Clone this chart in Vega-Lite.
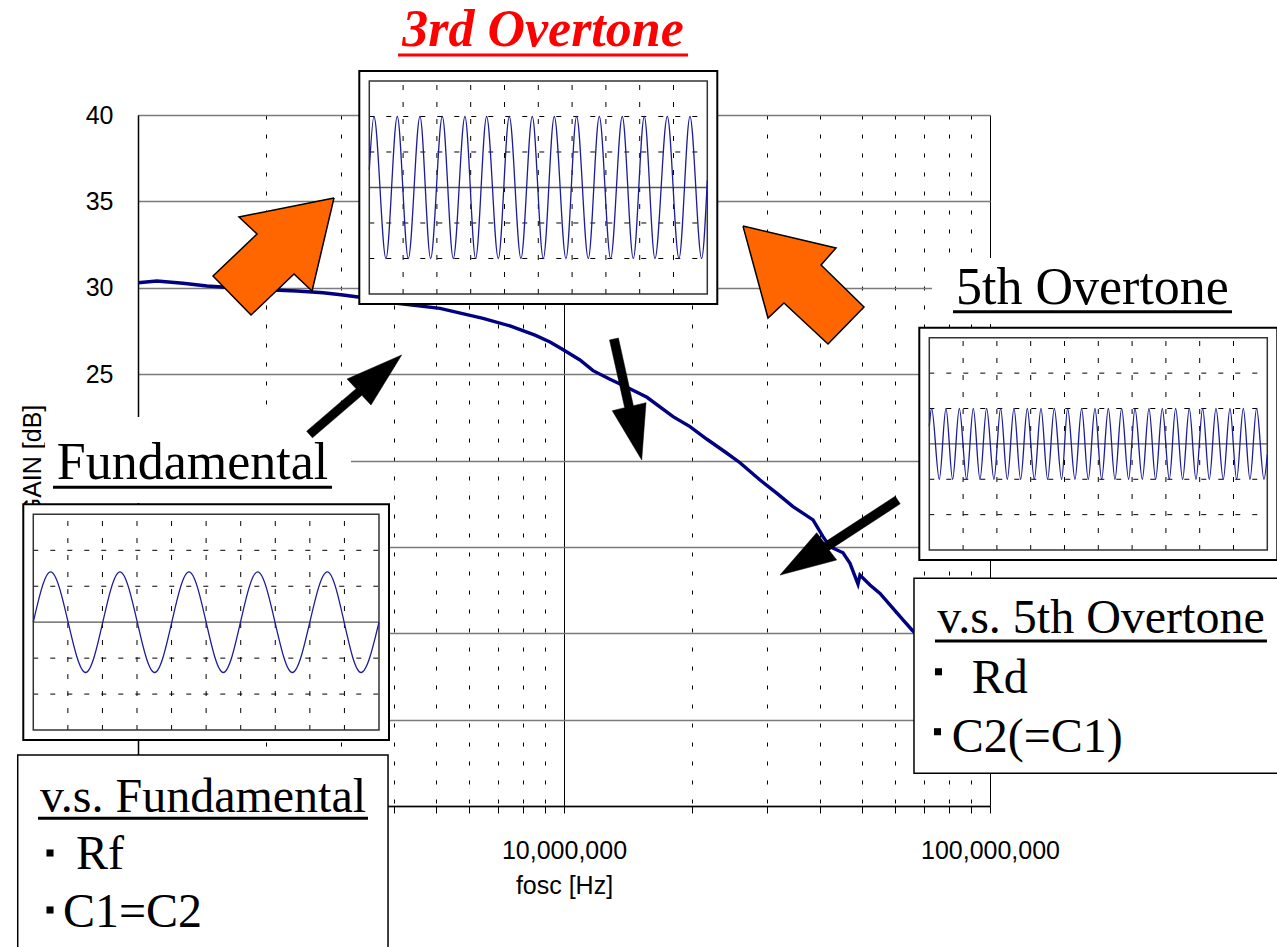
{
  "$schema": "https://vega.github.io/schema/vega-lite/v6.json",
  "width": 852,
  "height": 691,
  "autosize": {"type": "none"},
  "padding": {"left": 138, "top": 115, "right": 287, "bottom": 141},
  "background": "white",
  "config": {"view": {"stroke": null}},
  "datasets": {
    "gain": [
      {"f": 1000000, "gain": 30.29}, {"f": 1108000, "gain": 30.39}, {"f": 1275000, "gain": 30.26},
      {"f": 1452000, "gain": 30.10}, {"f": 1736000, "gain": 29.97}, {"f": 2074000, "gain": 29.87},
      {"f": 2362000, "gain": 29.81}, {"f": 2719000, "gain": 29.71}, {"f": 3029000, "gain": 29.58},
      {"f": 3320000, "gain": 29.45}, {"f": 4055000, "gain": 29.10}, {"f": 5115000, "gain": 28.81},
      {"f": 6455000, "gain": 28.23}, {"f": 7468000, "gain": 27.79}, {"f": 8550000, "gain": 27.26},
      {"f": 9271000, "gain": 26.86}, {"f": 9892000, "gain": 26.45}, {"f": 10900000, "gain": 25.82},
      {"f": 11700000, "gain": 25.20}, {"f": 12820000, "gain": 24.70}, {"f": 14050000, "gain": 24.24},
      {"f": 15660000, "gain": 23.66}, {"f": 18030000, "gain": 22.54}, {"f": 19760000, "gain": 21.96},
      {"f": 21660000, "gain": 21.23}, {"f": 24130000, "gain": 20.42}, {"f": 25890000, "gain": 19.87},
      {"f": 28850000, "gain": 18.87}, {"f": 31620000, "gain": 18.10}, {"f": 34480000, "gain": 17.33},
      {"f": 38420000, "gain": 16.56}, {"f": 40550000, "gain": 15.59}, {"f": 42100000, "gain": 15.01},
      {"f": 45180000, "gain": 14.66}, {"f": 46920000, "gain": 14.05}, {"f": 48990000, "gain": 12.85},
      {"f": 49520000, "gain": 13.37}, {"f": 52270000, "gain": 12.79}, {"f": 55180000, "gain": 12.31},
      {"f": 59200000, "gain": 11.44}, {"f": 62490000, "gain": 10.77}, {"f": 65600000, "gain": 10.19},
      {"f": 72320000, "gain": 9.15}
    ],
    "big_arrows": [
      {"shape": "up-left", "i": 0, "f": 2885000, "gain": 35.20},
      {"shape": "up-left", "i": 1, "f": 1726000, "gain": 34.10},
      {"shape": "up-left", "i": 2, "f": 1903000, "gain": 33.11},
      {"shape": "up-left", "i": 3, "f": 1500000, "gain": 30.68},
      {"shape": "up-left", "i": 4, "f": 1842000, "gain": 28.42},
      {"shape": "up-left", "i": 5, "f": 2324000, "gain": 30.80},
      {"shape": "up-left", "i": 6, "f": 2562000, "gain": 29.81},
      {"shape": "up-left", "i": 7, "f": 2885000, "gain": 35.20},
      {"shape": "up-right", "i": 0, "f": 26310000, "gain": 33.57},
      {"shape": "up-right", "i": 1, "f": 43500000, "gain": 32.30},
      {"shape": "up-right", "i": 2, "f": 40120000, "gain": 31.32},
      {"shape": "up-right", "i": 3, "f": 50610000, "gain": 28.89},
      {"shape": "up-right", "i": 4, "f": 41660000, "gain": 26.74},
      {"shape": "up-right", "i": 5, "f": 32840000, "gain": 29.12},
      {"shape": "up-right", "i": 6, "f": 30120000, "gain": 28.25},
      {"shape": "up-right", "i": 7, "f": 26310000, "gain": 33.57}
    ],
    "pointers": [
      {"shape": "to-3rd", "i": 0, "f": 2488000, "gain": 21.70},
      {"shape": "to-3rd", "i": 1, "f": 3251000, "gain": 24.16},
      {"shape": "to-3rd", "i": 2, "f": 3095000, "gain": 24.72},
      {"shape": "to-3rd", "i": 3, "f": 4159000, "gain": 26.11},
      {"shape": "to-3rd", "i": 4, "f": 3523000, "gain": 23.21},
      {"shape": "to-3rd", "i": 5, "f": 3354000, "gain": 23.77},
      {"shape": "to-3rd", "i": 6, "f": 2567000, "gain": 21.31},
      {"shape": "to-3rd", "i": 7, "f": 2488000, "gain": 21.70},
      {"shape": "down", "i": 0, "f": 12790000, "gain": 26.98},
      {"shape": "down", "i": 1, "f": 13880000, "gain": 23.06},
      {"shape": "down", "i": 2, "f": 12980000, "gain": 22.88},
      {"shape": "down", "i": 3, "f": 15220000, "gain": 20.03},
      {"shape": "down", "i": 4, "f": 15580000, "gain": 23.35},
      {"shape": "down", "i": 5, "f": 14550000, "gain": 23.17},
      {"shape": "down", "i": 6, "f": 13420000, "gain": 27.09},
      {"shape": "down", "i": 7, "f": 12790000, "gain": 26.98},
      {"shape": "from-5th", "i": 0, "f": 59910000, "gain": 17.93},
      {"shape": "from-5th", "i": 1, "f": 40810000, "gain": 15.25},
      {"shape": "from-5th", "i": 2, "f": 39190000, "gain": 15.82},
      {"shape": "from-5th", "i": 3, "f": 32140000, "gain": 13.37},
      {"shape": "from-5th", "i": 4, "f": 43660000, "gain": 14.24},
      {"shape": "from-5th", "i": 5, "f": 41930000, "gain": 14.81},
      {"shape": "from-5th", "i": 6, "f": 61550000, "gain": 17.49},
      {"shape": "from-5th", "i": 7, "f": 59910000, "gain": 17.93}
    ],
    "label_backs": [
      {"name": "Fundamental", "f": 604900, "f2": 3162000, "gain": 22.52, "gain2": 17.54},
      {"name": "5th Overtone", "f": 73080000, "f2": 506000000, "gain": 31.72, "gain2": 27.90}
    ],
    "note_boxes": [
      {"name": "v.s. 5th Overtone", "f": 66310000, "f2": 506000000, "gain": 13.18, "gain2": 1.89},
      {"name": "v.s. Fundamental", "f": 522000, "f2": 3863000, "gain": 2.95, "gain2": -8.91}
    ],
    "headings": [
      {"label": "Fundamental", "f": 1343000, "gain": 18.93},
      {"label": "5th Overtone", "f": 174000000, "gain": 29.06}
    ],
    "title": [
      {"label": "3rd Overtone", "f": 8927000, "gain": 43.99}
    ],
    "note_titles": [
      {"label": "v.s. 5th Overtone", "f": 182200000, "gain": 10.03},
      {"label": "v.s. Fundamental", "f": 1421000, "gain": -0.33}
    ],
    "note_items": [
      {"label": "Rd", "f": 90570000, "gain": 6.52},
      {"label": "C2(=C1)", "f": 81300000, "gain": 3.14},
      {"label": "Rf", "f": 715300, "gain": -3.65},
      {"label": "C1=C2", "f": 666700, "gain": -6.99}
    ],
    "bullets": [
      {"item": "Rd", "f": 75700000, "gain": 7.77},
      {"item": "C2(=C1)", "f": 75290000, "gain": 4.30},
      {"item": "Rf", "f": 621500, "gain": -2.72},
      {"item": "C1=C2", "f": 621500, "gain": -6.02}
    ],
    "underlines": [
      {"label": "3rd Overtone", "f": 4077000, "f2": 19550000, "gain": 43.47},
      {"label": "Fundamental", "f": 631700, "f2": 2854000, "gain": 18.45},
      {"label": "5th Overtone", "f": 81870000, "f2": 369900000, "gain": 28.61},
      {"label": "v.s. 5th Overtone", "f": 74280000, "f2": 446900000, "gain": 9.55},
      {"label": "v.s. Fundamental", "f": 582500, "f2": 3467000, "gain": -0.71}
    ],
    "scope_grid": [
      {"kind": "frame", "t": 0, "t2": 10, "v": -3, "v2": 3},
      {"kind": "vgrid", "t": 1, "t2": 1, "v": -3, "v2": 3},
      {"kind": "vgrid", "t": 2, "t2": 2, "v": -3, "v2": 3},
      {"kind": "vgrid", "t": 3, "t2": 3, "v": -3, "v2": 3},
      {"kind": "vgrid", "t": 4, "t2": 4, "v": -3, "v2": 3},
      {"kind": "vgrid", "t": 5, "t2": 5, "v": -3, "v2": 3},
      {"kind": "vgrid", "t": 6, "t2": 6, "v": -3, "v2": 3},
      {"kind": "vgrid", "t": 7, "t2": 7, "v": -3, "v2": 3},
      {"kind": "vgrid", "t": 8, "t2": 8, "v": -3, "v2": 3},
      {"kind": "vgrid", "t": 9, "t2": 9, "v": -3, "v2": 3},
      {"kind": "hgrid", "t": 0, "t2": 10, "v": -2, "v2": -2},
      {"kind": "hgrid", "t": 0, "t2": 10, "v": -1, "v2": -1},
      {"kind": "hgrid", "t": 0, "t2": 10, "v": 1, "v2": 1},
      {"kind": "hgrid", "t": 0, "t2": 10, "v": 2, "v2": 2},
      {"kind": "center", "t": 0, "t2": 10, "v": 0, "v2": 0}
    ],
    "wave_fundamental": [
      {"t": 0, "v": 0},
      {"t": 0.501, "v": 1.4}, {"t": 1.514, "v": -1.4},
      {"t": 2.507, "v": 1.4}, {"t": 3.510, "v": -1.4},
      {"t": 4.503, "v": 1.4}, {"t": 5.497, "v": -1.4},
      {"t": 6.490, "v": 1.4}, {"t": 7.493, "v": -1.4},
      {"t": 8.505, "v": 1.4}, {"t": 9.479, "v": -1.4},
      {"t": 10, "v": 0}
    ],
    "wave_3rd": [
      {"t": 0, "v": 0.5},
      {"t": 0.138, "v": 2}, {"t": 0.493, "v": -2},
      {"t": 0.828, "v": 2}, {"t": 1.154, "v": -2},
      {"t": 1.499, "v": 2}, {"t": 1.815, "v": -2},
      {"t": 2.160, "v": 2}, {"t": 2.485, "v": -2},
      {"t": 2.830, "v": 2}, {"t": 3.146, "v": -2},
      {"t": 3.471, "v": 2}, {"t": 3.817, "v": -2},
      {"t": 4.142, "v": 2}, {"t": 4.487, "v": -2},
      {"t": 4.822, "v": 2}, {"t": 5.148, "v": -2},
      {"t": 5.473, "v": 2}, {"t": 5.819, "v": -2},
      {"t": 6.134, "v": 2}, {"t": 6.479, "v": -2},
      {"t": 6.805, "v": 2}, {"t": 7.140, "v": -2},
      {"t": 7.485, "v": 2}, {"t": 7.811, "v": -2},
      {"t": 8.136, "v": 2}, {"t": 8.452, "v": -2},
      {"t": 8.817, "v": 2}, {"t": 9.162, "v": -2},
      {"t": 9.487, "v": 2}, {"t": 9.832, "v": -2},
      {"t": 10, "v": 0.2}
    ],
    "wave_5th": [
      {"t": 0, "v": 0.5},
      {"t": 0.069, "v": 1}, {"t": 0.296, "v": -1},
      {"t": 0.493, "v": 1}, {"t": 0.690, "v": -1},
      {"t": 0.888, "v": 1}, {"t": 1.105, "v": -1},
      {"t": 1.302, "v": 1}, {"t": 1.499, "v": -1},
      {"t": 1.696, "v": 1}, {"t": 1.913, "v": -1},
      {"t": 2.110, "v": 1}, {"t": 2.308, "v": -1},
      {"t": 2.505, "v": 1}, {"t": 2.702, "v": -1},
      {"t": 2.899, "v": 1}, {"t": 3.107, "v": -1},
      {"t": 3.304, "v": 1}, {"t": 3.501, "v": -1},
      {"t": 3.698, "v": 1}, {"t": 3.915, "v": -1},
      {"t": 4.093, "v": 1}, {"t": 4.310, "v": -1},
      {"t": 4.507, "v": 1}, {"t": 4.704, "v": -1},
      {"t": 4.901, "v": 1}, {"t": 5.099, "v": -1},
      {"t": 5.296, "v": 1}, {"t": 5.493, "v": -1},
      {"t": 5.690, "v": 1}, {"t": 5.897, "v": -1},
      {"t": 6.085, "v": 1}, {"t": 6.302, "v": -1},
      {"t": 6.499, "v": 1}, {"t": 6.696, "v": -1},
      {"t": 6.893, "v": 1}, {"t": 7.101, "v": -1},
      {"t": 7.288, "v": 1}, {"t": 7.495, "v": -1},
      {"t": 7.692, "v": 1}, {"t": 7.890, "v": -1},
      {"t": 8.087, "v": 1}, {"t": 8.284, "v": -1},
      {"t": 8.481, "v": 1}, {"t": 8.698, "v": -1},
      {"t": 8.895, "v": 1}, {"t": 9.093, "v": -1},
      {"t": 9.290, "v": 1}, {"t": 9.487, "v": -1},
      {"t": 9.684, "v": 1}, {"t": 9.901, "v": -1},
      {"t": 10, "v": -0.3}
    ]
  },
  "layer": [
    {
      "encoding": {
        "x": {
          "field": "f",
          "type": "quantitative",
          "scale": {"type": "log", "domain": [1000000, 100000000], "nice": false},
          "axis": {
            "values": [1000000, 2000000, 3000000, 4000000, 5000000, 6000000, 7000000, 8000000, 9000000,
                       10000000, 20000000, 30000000, 40000000, 50000000, 60000000, 70000000, 80000000, 90000000, 100000000],
            "labelExpr": "datum.value === 10000000 || datum.value === 100000000 ? format(datum.value, ',') : ''",
            "labelFont": "Liberation Sans",
            "labelFontSize": 25,
            "labelColor": "black",
            "labelPadding": 25,
            "labelFlush": false,
            "labelOverlap": false,
            "tickSize": 7,
            "tickColor": "black",
            "tickWidth": 1,
            "domainColor": "black",
            "domainWidth": 1.5,
            "grid": true,
            "gridColor": "black",
            "gridWidth": 1,
            "gridDash": {
              "condition": {"test": "datum.value === 1000000 || datum.value === 10000000 || datum.value === 100000000", "value": []},
              "value": [4, 15]
            },
            "title": "fosc [Hz]",
            "titleFont": "Liberation Sans",
            "titleFontSize": 25,
            "titleFontWeight": "normal",
            "titleColor": "black",
            "titlePadding": 10
          }
        },
        "y": {
          "field": "gain",
          "type": "quantitative",
          "scale": {"domain": [0, 40], "nice": false, "zero": false},
          "axis": {
            "values": [0, 5, 10, 15, 20, 25, 30, 35, 40],
            "labelExpr": "datum.value >= 25 ? datum.label : ''",
            "labelFont": "Liberation Sans",
            "labelFontSize": 25,
            "labelColor": "black",
            "labelPadding": 25,
            "ticks": false,
            "tickSize": 0,
            "domainColor": "black",
            "domainWidth": 1.5,
            "grid": true,
            "gridColor": "#7a7a7a",
            "gridWidth": 1.3,
            "title": "GAIN [dB]",
            "titleFont": "Liberation Sans",
            "titleFontSize": 25,
            "titleFontWeight": "normal",
            "titleColor": "black",
            "titlePadding": 40
          }
        }
      },
      "layer": [
        {
          "data": {"name": "gain"},
          "mark": {"type": "line", "color": "#000080", "strokeWidth": 3.4}
        },
        {
          "data": {"name": "label_backs"},
          "mark": {"type": "rect", "fill": "white", "strokeWidth": 0},
          "encoding": {"x2": {"field": "f2"}, "y2": {"field": "gain2"}}
        },
        {
          "data": {"name": "note_boxes"},
          "mark": {"type": "rect", "fill": "white", "stroke": "black", "strokeWidth": 1.5},
          "encoding": {"x2": {"field": "f2"}, "y2": {"field": "gain2"}}
        },
        {
          "data": {"name": "big_arrows"},
          "mark": {"type": "line", "fill": "#FF6600", "stroke": "black", "strokeWidth": 1.5, "strokeJoin": "miter"},
          "encoding": {"order": {"field": "i", "type": "quantitative"}, "detail": {"field": "shape"}}
        },
        {
          "data": {"name": "pointers"},
          "mark": {"type": "line", "fill": "black", "stroke": "black", "strokeWidth": 0.5, "strokeJoin": "miter"},
          "encoding": {"order": {"field": "i", "type": "quantitative"}, "detail": {"field": "shape"}}
        },
        {
          "data": {"name": "underlines"},
          "mark": {"type": "rule", "strokeWidth": 3},
          "encoding": {
            "x2": {"field": "f2"},
            "color": {"condition": {"test": "datum.label === '3rd Overtone'", "value": "#FF0000"}, "value": "black"}
          }
        },
        {
          "data": {"name": "title"},
          "mark": {"type": "text", "font": "Liberation Serif", "fontSize": 52, "fontWeight": "bold", "fontStyle": "italic", "color": "#FF0000", "align": "center", "baseline": "alphabetic"},
          "encoding": {"text": {"field": "label"}}
        },
        {
          "data": {"name": "headings"},
          "mark": {"type": "text", "font": "Liberation Serif", "fontSize": 52, "color": "black", "align": "center", "baseline": "alphabetic"},
          "encoding": {"text": {"field": "label"}}
        },
        {
          "data": {"name": "note_titles"},
          "mark": {"type": "text", "font": "Liberation Serif", "fontSize": 48, "color": "black", "align": "center", "baseline": "alphabetic"},
          "encoding": {"text": {"field": "label"}}
        },
        {
          "data": {"name": "note_items"},
          "mark": {"type": "text", "font": "Liberation Serif", "fontSize": 48, "color": "black", "align": "left", "baseline": "alphabetic"},
          "encoding": {"text": {"field": "label"}}
        },
        {
          "data": {"name": "bullets"},
          "mark": {"type": "point", "shape": "square", "size": 50, "filled": true, "color": "black", "opacity": 1}
        }
      ]
    },
    {
      "encoding": {
        "x": {"field": "t", "type": "quantitative", "scale": {"domain": [3.029, 27.674], "nice": false, "zero": false}, "axis": null},
        "y": {"field": "v", "type": "quantitative", "scale": {"domain": [-5.113, 14.109], "nice": false, "zero": false}, "axis": null}
      },
      "layer": [
        {
          "data": {"name": "scope_grid"},
          "transform": [{"filter": "datum.kind === 'frame'"}],
          "mark": {"type": "rect", "fill": "white", "stroke": "black", "strokeWidth": 2, "xOffset": -10, "x2Offset": 10, "yOffset": 10, "y2Offset": -10},
          "encoding": {"x2": {"field": "t2"}, "y2": {"field": "v2"}}
        },
        {
          "data": {"name": "scope_grid"},
          "transform": [{"filter": "datum.kind === 'vgrid' || datum.kind === 'hgrid'"}],
          "mark": {"type": "rule", "color": "black", "strokeWidth": 1, "strokeDash": [5, 12]},
          "encoding": {"x2": {"field": "t2"}, "y2": {"field": "v2"}}
        },
        {
          "data": {"name": "scope_grid"},
          "transform": [{"filter": "datum.kind === 'center'"}],
          "mark": {"type": "rule", "color": "#555555", "strokeWidth": 1.3},
          "encoding": {"x2": {"field": "t2"}, "y2": {"field": "v2"}}
        },
        {
          "data": {"name": "scope_grid"},
          "transform": [{"filter": "datum.kind === 'frame'"}],
          "mark": {"type": "rect", "fillOpacity": 0, "stroke": "#333333", "strokeWidth": 1.5},
          "encoding": {"x2": {"field": "t2"}, "y2": {"field": "v2"}}
        },
        {
          "data": {"name": "wave_fundamental"},
          "mark": {"type": "line", "interpolate": "monotone", "color": "#1c1c96", "strokeWidth": 1.3}
        }
      ]
    },
    {
      "encoding": {
        "x": {"field": "t", "type": "quantitative", "scale": {"domain": [-6.843, 18.364], "nice": false, "zero": false}, "axis": null},
        "y": {"field": "v", "type": "quantitative", "scale": {"domain": [-17.423, 2.042], "nice": false, "zero": false}, "axis": null}
      },
      "layer": [
        {
          "data": {"name": "scope_grid"},
          "transform": [{"filter": "datum.kind === 'frame'"}],
          "mark": {"type": "rect", "fill": "white", "stroke": "black", "strokeWidth": 2, "xOffset": -10, "x2Offset": 10, "yOffset": 10, "y2Offset": -10},
          "encoding": {"x2": {"field": "t2"}, "y2": {"field": "v2"}}
        },
        {
          "data": {"name": "scope_grid"},
          "transform": [{"filter": "datum.kind === 'vgrid' || datum.kind === 'hgrid'"}],
          "mark": {"type": "rule", "color": "black", "strokeWidth": 1, "strokeDash": [5, 12]},
          "encoding": {"x2": {"field": "t2"}, "y2": {"field": "v2"}}
        },
        {
          "data": {"name": "scope_grid"},
          "transform": [{"filter": "datum.kind === 'center'"}],
          "mark": {"type": "rule", "color": "#555555", "strokeWidth": 1.3},
          "encoding": {"x2": {"field": "t2"}, "y2": {"field": "v2"}}
        },
        {
          "data": {"name": "scope_grid"},
          "transform": [{"filter": "datum.kind === 'frame'"}],
          "mark": {"type": "rect", "fillOpacity": 0, "stroke": "#333333", "strokeWidth": 1.5},
          "encoding": {"x2": {"field": "t2"}, "y2": {"field": "v2"}}
        },
        {
          "data": {"name": "wave_3rd"},
          "mark": {"type": "line", "interpolate": "monotone", "color": "#1c1c96", "strokeWidth": 1.3}
        }
      ]
    },
    {
      "encoding": {
        "x": {"field": "t", "type": "quantitative", "scale": {"domain": [-23.411, 1.796], "nice": false, "zero": false}, "axis": null},
        "y": {"field": "v", "type": "quantitative", "scale": {"domain": [-10.235, 9.296], "nice": false, "zero": false}, "axis": null}
      },
      "layer": [
        {
          "data": {"name": "scope_grid"},
          "transform": [{"filter": "datum.kind === 'frame'"}],
          "mark": {"type": "rect", "fill": "white", "stroke": "black", "strokeWidth": 2, "xOffset": -10, "x2Offset": 10, "yOffset": 10, "y2Offset": -10},
          "encoding": {"x2": {"field": "t2"}, "y2": {"field": "v2"}}
        },
        {
          "data": {"name": "scope_grid"},
          "transform": [{"filter": "datum.kind === 'vgrid' || datum.kind === 'hgrid'"}],
          "mark": {"type": "rule", "color": "black", "strokeWidth": 1, "strokeDash": [5, 12]},
          "encoding": {"x2": {"field": "t2"}, "y2": {"field": "v2"}}
        },
        {
          "data": {"name": "scope_grid"},
          "transform": [{"filter": "datum.kind === 'center'"}],
          "mark": {"type": "rule", "color": "#555555", "strokeWidth": 1.3},
          "encoding": {"x2": {"field": "t2"}, "y2": {"field": "v2"}}
        },
        {
          "data": {"name": "scope_grid"},
          "transform": [{"filter": "datum.kind === 'frame'"}],
          "mark": {"type": "rect", "fillOpacity": 0, "stroke": "#333333", "strokeWidth": 1.5},
          "encoding": {"x2": {"field": "t2"}, "y2": {"field": "v2"}}
        },
        {
          "data": {"name": "wave_5th"},
          "mark": {"type": "line", "interpolate": "monotone", "color": "#1c1c96", "strokeWidth": 1.3}
        }
      ]
    }
  ],
  "resolve": {"scale": {"x": "independent", "y": "independent"}, "axis": {"x": "independent", "y": "independent"}}
}
